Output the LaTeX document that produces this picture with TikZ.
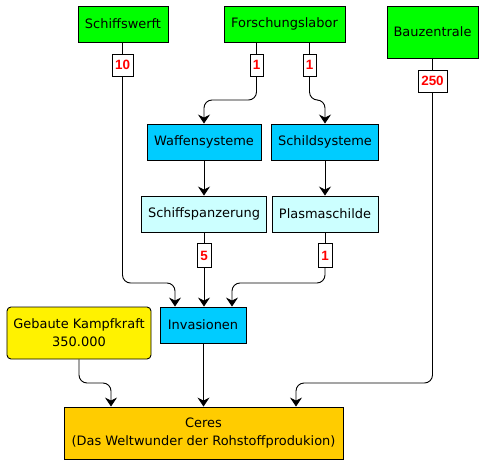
\documentclass[tikz,border=0pt]{standalone}
\usepackage{fontspec}
\setmainfont{DejaVu Sans}
\newfontfamily\lblfont{Liberation Sans}
\usetikzlibrary{arrows.meta}

\begin{document}
\begin{tikzpicture}[x=1bp, y=-1bp,
    box/.style={draw, line width=0.9bp, inner sep=0pt, align=center, font=\fontsize{13}{18}\selectfont},
    lbl/.style={draw, fill=white, line width=0.9bp, inner sep=0pt, minimum height=22bp,
        text=red, font=\lblfont\bfseries\fontsize{13.5}{14}\selectfont},
    conn/.style={line width=0.9bp, rounded corners=8bp},
    arr/.style={conn, -{Stealth[length=9bp, width=12bp, inset=3bp]}}]
    \useasboundingbox (0,0) rectangle (484,465);

    % Quellen
    \node[box, fill=green, minimum width=90bp, minimum height=36bp] (werft) at (123,24) {Schiffswerft};
    \node[box, fill=green, minimum width=121bp, minimum height=36bp] (labor) at (284.5,24) {Forschungslabor};
    \node[box, fill=green, minimum width=91bp, minimum height=52bp] (bau) at (432.5,32) {Bauzentrale};

    % Forschung
    \node[box, fill={rgb,255:red,0;green,204;blue,255}, minimum width=114bp, minimum height=36bp] (waffen) at (204,142) {Waffensysteme};
    \node[box, fill={rgb,255:red,0;green,204;blue,255}, minimum width=107bp, minimum height=36bp] (schild) at (325,142) {Schildsysteme};
    \node[box, fill={rgb,255:red,204;green,255;blue,255}, minimum width=125bp, minimum height=36bp] (panzer) at (204,214) {Schiffspanzerung};
    \node[box, fill={rgb,255:red,204;green,255;blue,255}, minimum width=106bp, minimum height=36bp] (plasma) at (325,214) {Plasmaschilde};

    % Invasionen und Kampfkraft
    \node[box, fill={rgb,255:red,0;green,204;blue,255}, minimum width=86bp, minimum height=36bp] (inv) at (203,325) {Invasionen};
    \node[box, fill=yellow, rounded corners=4bp, minimum width=144bp, minimum height=52bp] (kampf) at (79,333) {Gebaute Kampfkraft\\350.000};

    % Ziel
    \node[box, fill={rgb,255:red,255;green,204;blue,0}, minimum width=279bp, minimum height=52bp] (ceres) at (203.5,433) {Ceres\\(Das Weltwunder der Rohstoffprodukion)};

    % Mengen
    \node[lbl, minimum width=21bp] (n10) at (122.5,65) {10};
    \node[lbl, minimum width=13bp] (n1a) at (256.5,65) {1};
    \node[lbl, minimum width=13bp] (n1b) at (309.5,65) {1};
    \node[lbl, minimum width=29bp] (n250) at (432.5,81) {250};
    \node[lbl, minimum width=14bp, minimum height=24bp] (n5) at (204,255.5) {5};
    \node[lbl, minimum width=14bp, minimum height=24bp] (n1c) at (325,255.5) {1};

    % Hoehen der Knicke
    \coordinate (yL) at (0,100);
    \coordinate (yM) at (0,283);
    \coordinate (yU) at (0,383);

    % Verbindungen oben
    \draw[conn] (werft.south -| n10) -- (n10.north);
    \draw[conn] (labor.south -| n1a) -- (n1a.north);
    \draw[conn] (labor.south -| n1b) -- (n1b.north);
    \draw[conn] (bau.south -| n250) -- (n250.north);
    \draw[arr] (n1a.south) -- (n1a.south |- yL) -| (waffen.north);
    \draw[arr] (n1b.south) -- (n1b.south |- yL) -| (schild.north);
    \draw[arr] (waffen.south) -- (panzer.north);
    \draw[arr] (schild.south) -- (plasma.north);

    % Verbindungen zu Invasionen
    \draw[conn] (panzer.south -| n5) -- (n5.north);
    \draw[conn] (plasma.south -| n1c) -- (n1c.north);
    \draw[arr] (n10.south) -- (n10.south |- yM) -| ([xshift=-28bp]inv.north);
    \draw[arr] (n5.south) -- (n5.south |- inv.north);
    \draw[arr] (n1c.south) -- (n1c.south |- yM) -| ([xshift=29bp]inv.north);

    % Verbindungen zu Ceres
    \draw[arr] (kampf.south) -- (kampf.south |- yU) -| ([xshift=-92.5bp]ceres.north);
    \draw[arr] (inv.south -| ceres.north) -- (ceres.north);
    \draw[arr] (n250.south) -- (n250.south |- yU) -| ([xshift=92.5bp]ceres.north);
\end{tikzpicture}
\end{document}
